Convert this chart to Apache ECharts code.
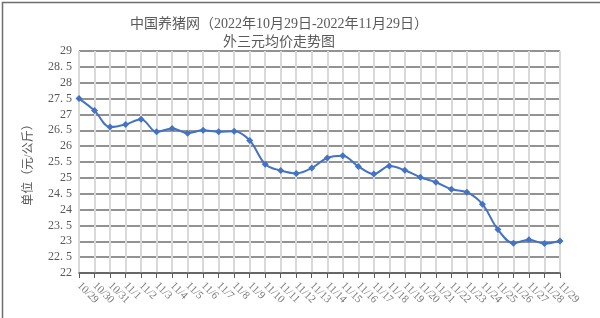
<!DOCTYPE html>
<html>
<head>
<meta charset="utf-8">
<script src="https://cdn.jsdelivr.net/npm/echarts@6/dist/echarts.min.js"></script>
<style>
html,body{margin:0;padding:0;background:#fff;}
#c{width:600px;height:318px;}
</style>
</head>
<body>
<div id="c"></div>
<script>
const titleLine1 = '中国养猪网（2022年10月29日-2022年11月29日）';
const titleLine2 = '外三元均价走势图';
const yAxisName = '单位（元/公斤）';
const categories = ['10/29','10/30','10/31','11/1','11/2','11/3','11/4','11/5','11/6','11/7','11/8','11/9','11/10','11/11','11/12','11/13','11/14','11/15','11/16','11/17','11/18','11/19','11/20','11/21','11/22','11/23','11/24','11/25','11/26','11/27','11/28','11/29'];
const prices = [27.5,27.12,26.6,26.68,26.85,26.45,26.56,26.41,26.5,26.45,26.47,26.18,25.43,25.23,25.14,25.31,25.63,25.7,25.36,25.12,25.37,25.24,25.02,24.86,24.64,24.55,24.17,23.37,22.94,23.05,22.93,23.01];
const yMin = 22, yMax = 29, yStep = 0.5;

const serif = "'Liberation Serif','DejaVu Serif','Noto Sans CJK SC',serif";
const chart = echarts.init(document.getElementById('c'));
chart.setOption({
  animation: false,
  backgroundColor: '#fff',
  title: {
    text: titleLine1 + '\n' + titleLine2,
    left: 274, top: 10, textAlign: 'center',
    textStyle: { fontFamily: serif, fontSize: 14, fontWeight: 'normal', color: '#595959', lineHeight: 18 }
  },
  grid: { left: 79, right: 40, top: 51, bottom: 45 },
  xAxis: {
    type: 'category', data: categories, boundaryGap: false,
    axisLine: { show: true, lineStyle: { color: '#595959', width: 1.5 } },
    axisTick: { show: true, length: 5, lineStyle: { color: '#595959' } },
    axisLabel: { rotate: -45, fontFamily: serif, fontSize: 11, color: '#7a7a7a', interval: 0, margin: 11 },
    splitLine: { show: true, lineStyle: { color: '#d9d9d9', width: 2 } }
  },
  yAxis: {
    type: 'value', min: yMin, max: yMax, interval: yStep,
    name: yAxisName, nameLocation: 'middle', nameGap: 44, nameRotate: 90,
    nameTextStyle: { fontFamily: serif, fontSize: 12, color: '#595959' },
    axisLine: { show: false }, axisTick: { show: false },
    axisLabel: { fontFamily: serif, fontSize: 12, color: '#595959', margin: 7,
      formatter: v => String(v).replace('.', '. ') },
    splitLine: { show: true, lineStyle: { color: '#6e6e6e', width: 1.5 } }
  },
  series: [{
    type: 'line', data: prices, smooth: 0.35,
    symbol: 'diamond', symbolSize: 7,
    lineStyle: { color: '#4472c4', width: 2 },
    itemStyle: { color: '#4472c4' }
  }],
  graphic: [{
    type: 'rect', left: 0, top: 0, z: 100,
    shape: { x: 0.5, y: 0.5, width: 599, height: 317 },
    style: { fill: null, stroke: '#6e6e6e', lineWidth: 1.5 }
  }]
});
</script>
</body>
</html>
